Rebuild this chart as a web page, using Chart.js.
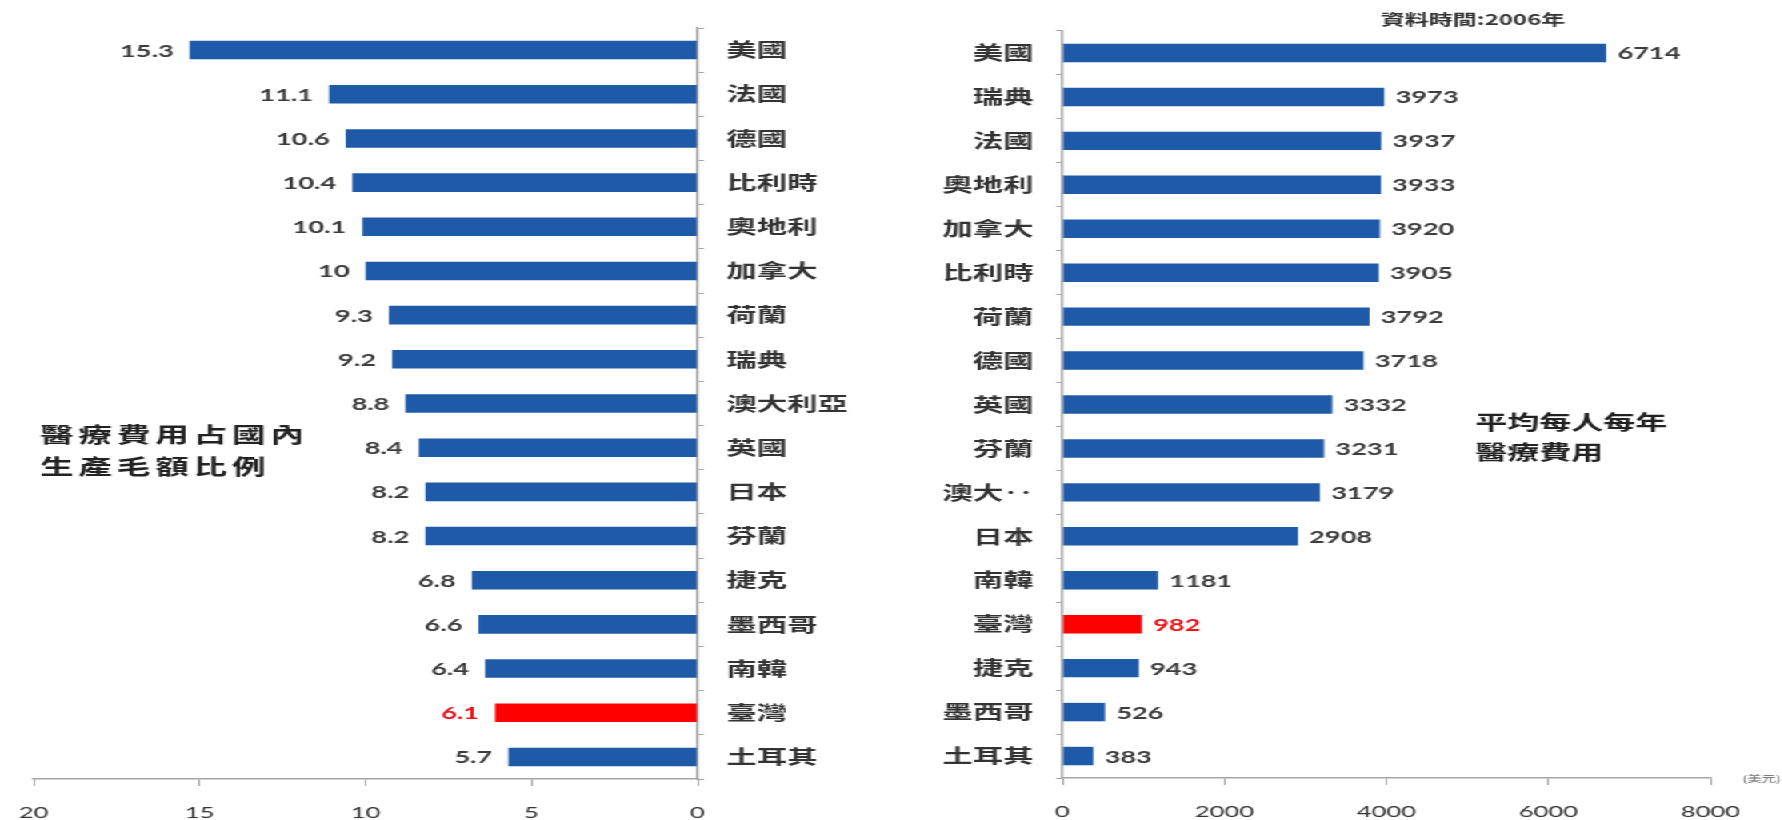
<!DOCTYPE html>
<html>
<head>
<meta charset="utf-8">
<script src="https://cdn.jsdelivr.net/npm/chart.js@4/dist/chart.umd.min.js"></script>
<style>
  html, body { margin: 0; padding: 0; background: #fff; overflow: hidden; }
  #wrap {
    position: absolute; left: 0; top: 0; width: 1114px; height: 820px;
    transform: scaleX(1.6); transform-origin: 0 0;
  }
  #wrap canvas { position: absolute; top: 0; }
</style>
</head>
<body>
<div id="wrap">
  <canvas id="gdp" width="560" height="820" style="left:0"></canvas>
  <canvas id="perCapita" width="554" height="820" style="left:560px"></canvas>
</div>
<script>
  // Tỷ lệ chi phí y tế / GDP (%)
  const gdpCountries = ["美國", "法國", "德國", "比利時", "奧地利", "加拿大", "荷蘭", "瑞典", "澳大利亞",
    "英國", "日本", "芬蘭", "捷克", "墨西哥", "南韓", "臺灣", "土耳其"];
  const gdpValues = [15.3, 11.1, 10.6, 10.4, 10.1, 10, 9.3, 9.2, 8.8, 8.4, 8.2, 8.2, 6.8, 6.6, 6.4, 6.1, 5.7];
  const gdpTicks = [0, 5, 10, 15, 20];

  // Chi phí y tế bình quân đầu người mỗi năm (USD)
  const costCountries = ["美國", "瑞典", "法國", "奧地利", "加拿大", "比利時", "荷蘭", "德國", "英國",
    "芬蘭", "澳大‥", "日本", "南韓", "臺灣", "捷克", "墨西哥", "土耳其"];
  const costValues = [6714, 3973, 3937, 3933, 3920, 3905, 3792, 3718, 3332, 3231, 3179, 2908, 1181, 982, 943, 526, 383];
  const costTicks = [0, 2000, 4000, 6000, 8000];

  const highlight = "臺灣";
  const BLUE = "#1f5aa8";
  const RED = "#ff0000";
  const AXIS = "#a6a6a6";

  Chart.defaults.font.family = 'Lato, "Noto Sans CJK TC", sans-serif';
  Chart.defaults.color = "#333";

  // Nhãn giá trị cạnh thanh
  const valueLabels = {
    id: "valueLabels",
    afterDatasetsDraw(chart, args, opts) {
      const ctx = chart.ctx;
      const meta = chart.getDatasetMeta(0);
      const data = chart.data.datasets[0].data;
      ctx.save();
      ctx.textBaseline = "middle";
      ctx.textAlign = opts.side === "left" ? "right" : "left";
      meta.data.forEach((bar, i) => {
        const hl = chart.data.labels[i] === highlight;
        ctx.font = "bold 17px Lato";
        ctx.fillStyle = hl ? "#e8141c" : "#3c3c3c";
        const x = opts.side === "left" ? bar.x - opts.gap : bar.x + opts.gap;
        ctx.fillText(String(data[i]), x, bar.y + 1);
      });
      ctx.restore();
    },
  };

  // Chữ chú thích tự do
  const notes = {
    id: "notes",
    afterDraw(chart, args, opts) {
      const ctx = chart.ctx;
      ctx.save();
      (opts.items || []).forEach((it) => {
        ctx.font = it.font;
        ctx.fillStyle = it.color || "#222";
        ctx.textAlign = it.align || "left";
        ctx.textBaseline = "middle";
        ctx.letterSpacing = (it.spacing || 0) + "px";
        ctx.fillText(it.text, it.x, it.y);
      });
      ctx.restore();
    },
  };

  function barColors(labels) {
    return labels.map((c) => (c === highlight ? RED : BLUE));
  }

  function makeChart(id, cfg) {
    return new Chart(document.getElementById(id), {
      type: "bar",
      data: {
        labels: cfg.labels,
        datasets: [{
          data: cfg.values,
          backgroundColor: barColors(cfg.labels),
          categoryPercentage: 1,
          barPercentage: 0.42,
        }],
      },
      options: {
        indexAxis: "y",
        responsive: false,
        animation: false,
        devicePixelRatio: 1,
        layout: { padding: cfg.padding },
        plugins: {
          legend: { display: false },
          tooltip: { enabled: false },
          valueLabels: { side: cfg.labelSide, gap: cfg.gap },
          notes: { items: cfg.notes },
        },
        scales: {
          x: {
            min: 0,
            max: cfg.ticks[cfg.ticks.length - 1],
            reverse: cfg.reverse,
            afterBuildTicks: (s) => { s.ticks = cfg.ticks.map((v) => ({ value: v })); },
            afterFit: (s) => { s.height = cfg.xHeight; },
            grid: { drawOnChartArea: false, tickLength: 7, tickColor: AXIS },
            border: { color: AXIS, width: 1.5 },
            ticks: {
              padding: 17,
              color: "#333",
              font: { size: 16, family: "Lato" },
              callback: (v) => String(v),
            },
          },
          y: {
            position: cfg.yPos,
            afterFit: (s) => { s.width = cfg.yWidth; },
            grid: { drawOnChartArea: false, tickLength: 4, tickColor: AXIS },
            border: { color: AXIS, width: 1.5 },
            ticks: {
              padding: 14,
              color: "#333",
              font: { size: 19, weight: "bold", family: '"Noto Sans CJK TC"' },
            },
          },
        },
      },
      plugins: [valueLabels, notes],
    });
  }

  makeChart("gdp", {
    labels: gdpCountries,
    values: gdpValues,
    ticks: gdpTicks,
    reverse: true,
    yPos: "right",
    yWidth: 124,
    xHeight: 41,
    padding: { left: 21, right: 0, top: 28, bottom: 0 },
    labelSide: "left",
    gap: 10,
    notes: [
      { text: "醫療費用占國內", x: 25, y: 434, font: 'bold 21px "Noto Sans CJK TC"', spacing: 3 },
      { text: "生產毛額比例", x: 25, y: 466, font: 'bold 21px "Noto Sans CJK TC"', spacing: 3 },
    ],
  });

  makeChart("perCapita", {
    labels: costCountries,
    values: costValues,
    ticks: costTicks,
    reverse: false,
    yPos: "left",
    yWidth: 104,
    xHeight: 42,
    padding: { left: 0, right: 45, top: 31, bottom: 0 },
    labelSide: "right",
    gap: 7,
    notes: [
      { text: "資料時間:2006年", x: 303, y: 19, font: 'bold 15px "Noto Sans CJK TC"', color: "#333" },
      { text: "平均每人每年", x: 362, y: 422, font: 'bold 20px "Noto Sans CJK TC"' },
      { text: "醫療費用", x: 362, y: 452, font: 'bold 20px "Noto Sans CJK TC"' },
      { text: "(美元)", x: 553, y: 779, font: '9px "Noto Sans CJK TC"', color: "#555", align: "right" },
    ],
  });
</script>
</body>
</html>
